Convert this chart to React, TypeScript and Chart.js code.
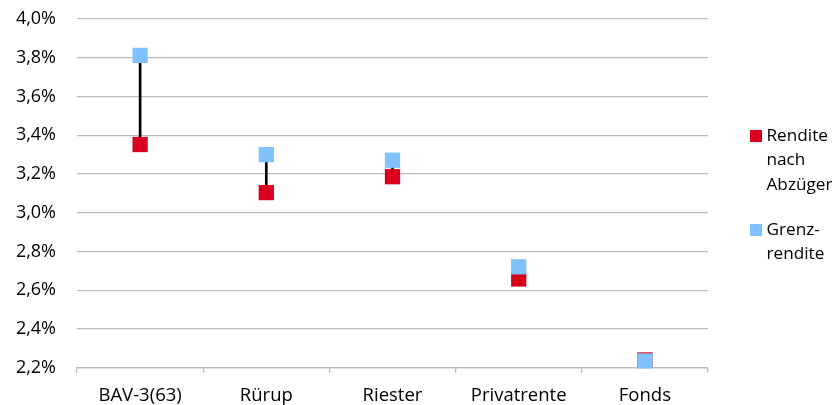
import React, { useEffect, useRef } from 'react';
import { Chart, registerables } from 'chart.js';

Chart.register(...registerables);

const categories = ['BAV-3(63)', 'Rürup', 'Riester', 'Privatrente', 'Fonds'];
const renditeNachAbzuegen = [3.352, 3.104, 3.186, 2.658, 2.24];
const grenzrendite = [3.812, 3.3, 3.271, 2.721, 2.235];
const yMin = 2.2;
const yMax = 4.0;
const yStep = 0.2;
const seriesNames = ['Rendite nach Abzügen', 'Grenzrendite'];
const legendLines = [
  ['Rendite', 'nach', 'Abzügen'],
  ['Grenz-', 'rendite'],
];

const RED = '#D8001D';
const BLUE = '#80C1FF';
const GRID = '#BCBCBC';
const FONT = "'Open Sans', sans-serif";

export default function App() {
  const ref = useRef<HTMLCanvasElement | null>(null);

  useEffect(() => {
    if (!ref.current) return;
    const chart = new Chart(ref.current, {
      type: 'bar',
      data: {
        labels: categories,
        datasets: [
          {
            type: 'bar',
            label: 'hilo',
            data: categories.map((_, i) => [renditeNachAbzuegen[i], grenzrendite[i]]) as any,
            backgroundColor: '#000',
            borderWidth: 0,
            barThickness: 2,
            order: 3,
          },
          {
            type: 'line',
            label: seriesNames[0],
            data: renditeNachAbzuegen,
            showLine: false,
            pointStyle: 'rect',
            pointRadius: 10.8,
            pointBackgroundColor: RED,
            pointBorderColor: RED,
            pointBorderWidth: 0,
            clip: false as any,
            order: 2,
          },
          {
            type: 'line',
            label: seriesNames[1],
            data: grenzrendite,
            showLine: false,
            pointStyle: 'rect',
            pointRadius: 10.8,
            pointBackgroundColor: BLUE,
            pointBorderColor: BLUE,
            pointBorderWidth: 0,
            clip: false as any,
            order: 1,
          },
        ],
      },
      options: {
        animation: false,
        responsive: true,
        maintainAspectRatio: false,
        layout: { autoPadding: false, padding: { top: 11, right: 132, left: 0, bottom: 0 } },
        plugins: {
          legend: { display: false },
          tooltip: { enabled: false },
        },
        scales: {
          x: {
            offset: true,
            afterFit: (scale: any) => {
              scale.height = 37.3;
            },
            grid: {
              offset: true,
              drawOnChartArea: false,
              drawTicks: true,
              tickLength: 5,
              color: GRID,
              lineWidth: 1.3,
            },
            border: { display: true, color: GRID, width: 1.3 },
            ticks: {
              color: '#000',
              padding: 12,
              font: { family: FONT, size: 18.5 },
              maxRotation: 0,
              autoSkip: false,
            },
          },
          y: {
            min: yMin,
            max: yMax,
            afterFit: (scale: any) => {
              scale.width = 69;
            },
            grid: {
              drawTicks: true,
              tickLength: 21,
              tickColor: 'rgba(0,0,0,0)',
              color: GRID,
              lineWidth: 1.3,
            },
            border: { display: false },
            ticks: {
              stepSize: yStep,
              padding: 0,
              color: '#000',
              font: { family: FONT, size: 18 },
              callback: (v: any) => Number(v).toFixed(1).replace('.', ',') + '%',
            },
          },
        },
      },
    });
    return () => chart.destroy();
  }, []);

  const colors = [RED, BLUE];
  const tops = [114.5, 208.5];

  return (
    <div style={{ position: 'relative', width: 832, height: 397 }}>
      <canvas ref={ref} />
      {legendLines.map((lines, i) => (
        <div
          key={i}
          style={{
            position: 'absolute',
            left: 742,
            top: tops[i],
            fontFamily: FONT,
            fontSize: 17.2,
            lineHeight: '24.5px',
            color: '#000',
          }}
        >
          <div
            style={{
              position: 'absolute',
              left: 0,
              top: 7,
              width: 12,
              height: 12,
              background: colors[i],
            }}
          />
          <div style={{ marginLeft: 16.5 }}>
            {lines.map((l, j) => (
              <div key={j} style={{ whiteSpace: 'nowrap' }}>{l}</div>
            ))}
          </div>
        </div>
      ))}
    </div>
  );
}
